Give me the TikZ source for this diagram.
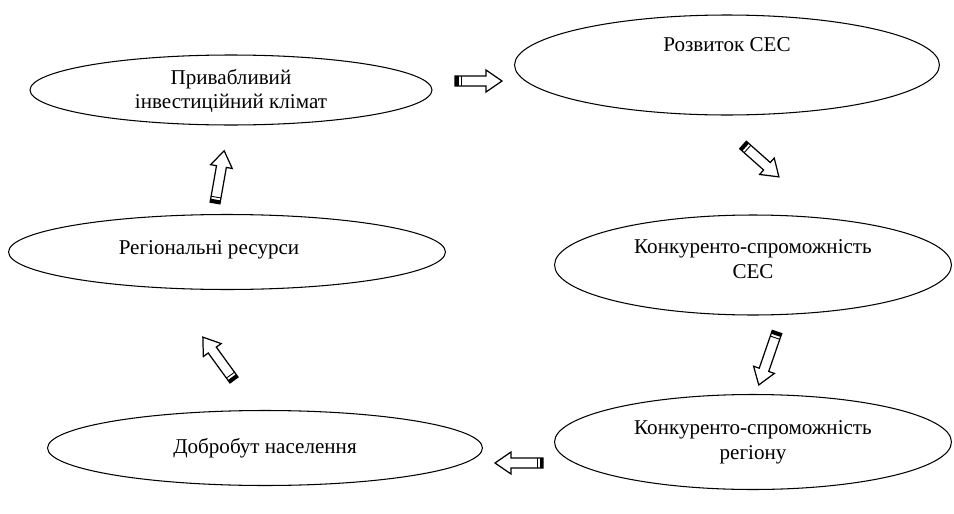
\documentclass[tikz,border=0pt]{standalone}
\usepackage{fontspec}
\setmainfont{Liberation Serif}
\usetikzlibrary{shapes,positioning}
\tikzstyle{ellbox} = [ellipse, draw=black, line width=0.6pt, inner sep=0pt]
\tikzstyle{txt} = [align=center, font=\fontsize{12}{14.2}\selectfont, inner sep=0pt]
\tikzstyle{arrowbody} = [draw=black, fill=white, line width=0.7pt, line join=miter]
% block arrow: tail point, angle, length (in px)
\newcommand{\blockarr}[3]{%
  \begin{scope}[shift={#1}, rotate=#2]
    \draw[arrowbody] (0,-5) -- (#3-16,-5) -- (#3-16,-11) -- (#3,0) -- (#3-16,11) -- (#3-16,5) -- (0,5) -- cycle;
    \fill (0,-5) rectangle (3.5,5);
    \draw[line width=0.5pt] (6,-5) -- (6,5);
  \end{scope}}

\begin{document}
\begin{tikzpicture}[x=0.02cm, y=-0.02cm]
\useasboundingbox (0,0) rectangle (954,514);
% Ellipses
\node[ellbox, minimum width=8.04cm, minimum height=1.4cm] (klimat) at (231,90) {};
\node[ellbox, minimum width=8.5cm, minimum height=2cm] (rozvytok) at (727,65) {};
\node[ellbox, minimum width=8.74cm, minimum height=1.5cm] (resursy) at (227,252) {};
\node[ellbox, minimum width=7.94cm, minimum height=2cm] (konkses) at (753,265) {};
\node[ellbox, minimum width=7.94cm, minimum height=1.9cm] (konkreg) at (753,442) {};
\node[ellbox, minimum width=8.7cm, minimum height=1.5cm] (dobrobut) at (265,448) {};
% Texts
\node[txt] (t-klimat) at (231,91) {Привабливий\\інвестиційний клімат};
\node[txt] (t-rozvytok) at (727,45) {Розвиток СЕС};
\node[txt] (t-resursy) at (209,250) {Регіональні ресурси};
\node[txt] (t-konkses) at (753,259) {Конкуренто-спроможність\\СЕС};
\node[txt] (t-konkreg) at (753,442) {Конкуренто-спроможність\\регіону};
\node[txt] (t-dobrobut) at (265,448) {Добробут населення};
% Arrows
\blockarr{(455,81)}{0}{47}
\blockarr{(743,145)}{-41.6}{48}
\blockarr{(777,332)}{-109}{56}
\blockarr{(543,463)}{180}{48}
\blockarr{(234,380)}{126}{53}
\blockarr{(215,203)}{80}{53}
\end{tikzpicture}
\end{document}
